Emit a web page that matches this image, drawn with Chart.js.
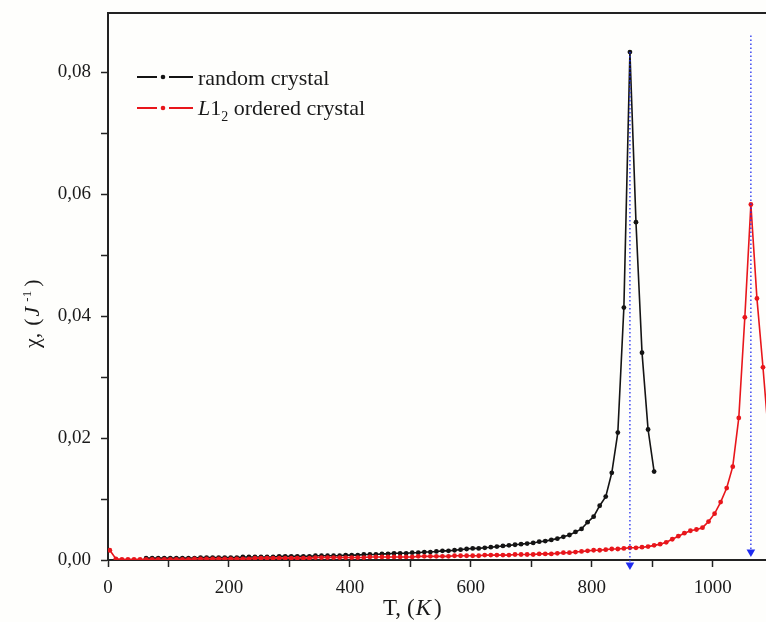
<!DOCTYPE html>
<html>
<head>
<meta charset="utf-8">
<script src="https://cdn.jsdelivr.net/npm/chart.js@4.4.1/dist/chart.umd.min.js"></script>
<style>
  html, body { margin: 0; padding: 0; background: #fefefc; }
  #wrap { width: 766px; height: 622px; }
</style>
</head>
<body>
<div id="wrap"><canvas id="chart" width="766" height="622"></canvas></div>
<script>
// Magnetic susceptibility versus temperature, random and L1_2 ordered crystals
const tempRandom = [
  63, 73, 83, 93, 103, 113, 123, 133, 143, 153, 163, 173, 183, 193, 203, 213, 223, 233, 243, 253,
  263, 273, 283, 293, 303, 313, 323, 333, 343, 353, 363, 373, 383, 393, 403, 413, 423, 433, 443, 453,
  463, 473, 483, 493, 503, 513, 523, 533, 543, 553, 563, 573, 583, 593, 603, 613, 623, 633, 643, 653,
  663, 673, 683, 693, 703, 713, 723, 733, 743, 753, 763, 773, 783, 793, 803, 813, 823, 833, 843, 853,
  863, 873, 883, 893, 903
];
const chiRandom = [
  0.0003, 0.0003, 0.0003, 0.0003, 0.0003, 0.0003, 0.0003, 0.0003, 0.0003, 0.0004, 0.0004, 0.0004, 0.0004, 0.0004, 0.0004, 0.0004, 0.0005, 0.0005, 0.0005, 0.0005,
  0.0005, 0.0005, 0.0006, 0.0006, 0.0006, 0.0006, 0.0006, 0.0006, 0.0007, 0.0007, 0.0007, 0.0007, 0.0007, 0.0008, 0.0008, 0.0008, 0.0009, 0.0009, 0.0009, 0.0010,
  0.0010, 0.0011, 0.0011, 0.0011, 0.0012, 0.0012, 0.0013, 0.0013, 0.0014, 0.0015, 0.0015, 0.0016, 0.0017, 0.0018, 0.0019, 0.0019, 0.0020, 0.0021, 0.0022, 0.0023,
  0.0024, 0.0025, 0.0026, 0.0027, 0.0028, 0.0030, 0.0031, 0.0033, 0.0035, 0.0038, 0.0041, 0.0046, 0.0051, 0.0062, 0.0071, 0.0089, 0.0104, 0.0143, 0.0209, 0.0414,
  0.0833, 0.0554, 0.0340, 0.0214, 0.0145
];
const tempOrdered = [
  3, 13, 23, 33, 43, 53, 63, 73, 83, 93, 103, 113, 123, 133, 143, 153, 163, 173, 183, 193,
  203, 213, 223, 233, 243, 253, 263, 273, 283, 293, 303, 313, 323, 333, 343, 353, 363, 373, 383, 393,
  403, 413, 423, 433, 443, 453, 463, 473, 483, 493, 503, 513, 523, 533, 543, 553, 563, 573, 583, 593,
  603, 613, 623, 633, 643, 653, 663, 673, 683, 693, 703, 713, 723, 733, 743, 753, 763, 773, 783, 793,
  803, 813, 823, 833, 843, 853, 863, 873, 883, 893, 903, 913, 923, 933, 943, 953, 963, 973, 983, 993,
  1003, 1013, 1023, 1033, 1043, 1053, 1063, 1073, 1083, 1093
];
const chiOrdered = [
  0.0016, 0.0002, 0.0001, 0.0001, 0.0001, 0.0001, 0.0001, 0.0001, 0.0001, 0.0001, 0.0001, 0.0001, 0.0001, 0.0001, 0.0002, 0.0002, 0.0002, 0.0002, 0.0002, 0.0002,
  0.0002, 0.0002, 0.0002, 0.0002, 0.0003, 0.0003, 0.0003, 0.0003, 0.0003, 0.0003, 0.0003, 0.0003, 0.0003, 0.0003, 0.0004, 0.0004, 0.0004, 0.0004, 0.0004, 0.0004,
  0.0004, 0.0004, 0.0004, 0.0005, 0.0005, 0.0005, 0.0005, 0.0005, 0.0005, 0.0005, 0.0005, 0.0006, 0.0006, 0.0006, 0.0006, 0.0006, 0.0006, 0.0007, 0.0007, 0.0007,
  0.0007, 0.0007, 0.0008, 0.0008, 0.0008, 0.0008, 0.0008, 0.0009, 0.0009, 0.0009, 0.0009, 0.0010, 0.0010, 0.0010, 0.0011, 0.0012, 0.0012, 0.0013, 0.0014, 0.0015,
  0.0016, 0.0016, 0.0017, 0.0018, 0.0018, 0.0019, 0.0020, 0.0020, 0.0021, 0.0022, 0.0024, 0.0026, 0.0029, 0.0034, 0.0039, 0.0044, 0.0048, 0.0050, 0.0053, 0.0063,
  0.0076, 0.0095, 0.0118, 0.0153, 0.0233, 0.0398, 0.0583, 0.0429, 0.0316, 0.0195
];
// Transition temperatures marked with dotted arrows: [T, top of arrow, arrow tip]
const transitionRandom = [863, 0.0833, -0.0008];
const transitionOrdered = [1063, 0.0860, 0.0013];

const seriesNames = ['random crystal', 'ordered crystal'];
const serif = '"Liberation Serif", "Times New Roman", serif';
const BLACK = '#141414';
const RED = '#e8161b';
const BLUE = '#1f2bf0';

const toPoints = (xs, ys) => xs.map((x, i) => ({ x, y: ys[i] }));
const arrowPoints = (t) => [{ x: t[0], y: t[1] }, { x: t[0], y: t[2] }];

const onGrid = (v, step) => Math.abs(v / step - Math.round(v / step)) < 1e-6;

// Draws consecutive text runs with individual fonts, baseline offsets and extra gaps
function drawRuns(ctx, x, y, runs) {
  let cx = x;
  for (const r of runs) {
    cx += r.gap || 0;
    ctx.font = r.font;
    ctx.fillText(r.text, cx, y + (r.dy || 0));
    cx += ctx.measureText(r.text).width;
  }
}

const decor = {
  id: 'decor',
  beforeDraw(chart) {
    const { ctx, width, height } = chart;
    ctx.save();
    ctx.fillStyle = '#fefefc';
    ctx.fillRect(0, 0, width, height);
    ctx.restore();
  },
  afterDraw(chart) {
    const { ctx, chartArea: a } = chart;
    ctx.save();
    // top frame line
    ctx.strokeStyle = '#222';
    ctx.lineWidth = 2;
    ctx.beginPath();
    ctx.moveTo(a.left - 1, a.top);
    ctx.lineTo(a.right, a.top);
    ctx.stroke();

    // legend
    const rows = [
      { color: BLACK, y: 77, base: 85, runs: [{ text: seriesNames[0], font: '22px ' + serif }] },
      { color: RED, y: 108, base: 115, runs: [
        { text: 'L', font: 'italic 22px ' + serif },
        { text: '1', font: '22px ' + serif },
        { text: '2', font: '14px ' + serif, dy: 6 },
        { text: ' ' + seriesNames[1], font: '22px ' + serif }
      ] }
    ];
    for (const r of rows) {
      ctx.strokeStyle = r.color;
      ctx.fillStyle = r.color;
      ctx.lineWidth = 2;
      ctx.beginPath();
      ctx.moveTo(137, r.y); ctx.lineTo(157, r.y);
      ctx.moveTo(169, r.y); ctx.lineTo(193, r.y);
      ctx.stroke();
      ctx.beginPath();
      ctx.arc(163, r.y, 2.3, 0, Math.PI * 2);
      ctx.fill();
      ctx.fillStyle = '#1a1a1a';
      ctx.textBaseline = 'alphabetic';
      drawRuns(ctx, 198, r.base, r.runs);
    }

    // axis titles
    ctx.fillStyle = '#1a1a1a';
    drawRuns(ctx, 383, 615, [
      { text: 'T,', font: '23px ' + serif },
      { text: '(', font: '23px ' + serif, gap: 6 },
      { text: 'K', font: 'italic 23px ' + serif, gap: 1 },
      { text: ')', font: '23px ' + serif, gap: 3 }
    ]);
    ctx.save();
    ctx.translate(39, 348);
    ctx.rotate(-Math.PI / 2);
    drawRuns(ctx, 0, 0, [
      { text: 'χ,', font: '22px ' + serif },
      { text: '(', font: '22px ' + serif, gap: 7 },
      { text: 'J', font: 'italic 22px ' + serif, gap: 2 },
      { text: '-1', font: '13px ' + serif, dy: -8, gap: 5 },
      { text: ')', font: '22px ' + serif, gap: 4 }
    ]);
    ctx.restore();
    ctx.restore();
  }
};

const lineStyle = (color) => ({
  borderColor: color,
  backgroundColor: color,
  borderWidth: 1.6,
  pointRadius: 2.4,
  pointHoverRadius: 2.4,
  pointBorderWidth: 0,
  pointBackgroundColor: color,
  tension: 0,
  fill: false
});

const arrowStyle = {
  borderColor: BLUE,
  backgroundColor: BLUE,
  borderWidth: 1.3,
  borderDash: [1.5, 2.5],
  pointStyle: 'triangle',
  pointRadius: (c) => (c.dataIndex === 1 ? 5 : 0),
  pointRotation: 180,
  pointBorderWidth: 0,
  pointBackgroundColor: BLUE,
  fill: false,
  clip: false,
  order: 0
};

// Axis boxes keep a fixed size and no label overhang padding
const fixBox = (size) => (s) => {
  if (s.isHorizontal()) { s.height = size; } else { s.width = size; }
  s.paddingTop = 0; s.paddingBottom = 0; s.paddingLeft = 0; s.paddingRight = 0;
};

new Chart(document.getElementById('chart'), {
  type: 'line',
  data: {
    datasets: [
      Object.assign({ label: 'Tc ordered', data: arrowPoints(transitionOrdered) }, arrowStyle),
      Object.assign({ label: 'Tc random', data: arrowPoints(transitionRandom) }, arrowStyle),
      Object.assign({ label: seriesNames[1], data: toPoints(tempOrdered, chiOrdered), order: 1 }, lineStyle(RED)),
      Object.assign({ label: seriesNames[0], data: toPoints(tempRandom, chiRandom), order: 2 }, lineStyle(BLACK))
    ]
  },
  options: {
    responsive: false,
    animation: false,
    events: [],
    layout: { autoPadding: false, padding: { top: 13, right: 0, left: 0, bottom: 0 } },
    plugins: { legend: { display: false }, tooltip: { enabled: false } },
    scales: {
      x: {
        type: 'linear',
        min: 0,
        max: 1088,
        afterFit: fixBox(62),
        border: { display: true, color: '#222', width: 2 },
        grid: {
          drawOnChartArea: false,
          drawTicks: true,
          tickLength: 7,
          tickWidth: 1.5,
          tickColor: (c) => (c.tick && onGrid(c.tick.value, 100) ? '#222' : 'rgba(0,0,0,0)')
        },
        ticks: {
          stepSize: 100,
          includeBounds: false,
          maxRotation: 0,
          autoSkip: false,
          padding: 10,
          color: '#1a1a1a',
          font: { family: serif, size: 19 },
          callback: (v) => (onGrid(v, 200) ? String(Math.round(v)) : '')
        }
      },
      y: {
        type: 'linear',
        min: 0,
        max: 0.0897,
        afterFit: fixBox(108),
        border: { display: true, color: '#222', width: 2 },
        grid: {
          drawOnChartArea: false,
          drawTicks: true,
          tickLength: 7,
          tickWidth: 1.5,
          tickColor: (c) => (c.tick && onGrid(c.tick.value, 0.01) ? '#222' : 'rgba(0,0,0,0)')
        },
        ticks: {
          stepSize: 0.01,
          includeBounds: false,
          autoSkip: false,
          padding: 10,
          color: '#1a1a1a',
          font: { family: serif, size: 19 },
          callback: (v) => (onGrid(v, 0.02) ? v.toFixed(2).replace('.', ',') : '')
        }
      }
    }
  },
  plugins: [decor]
});
</script>
</body>
</html>
